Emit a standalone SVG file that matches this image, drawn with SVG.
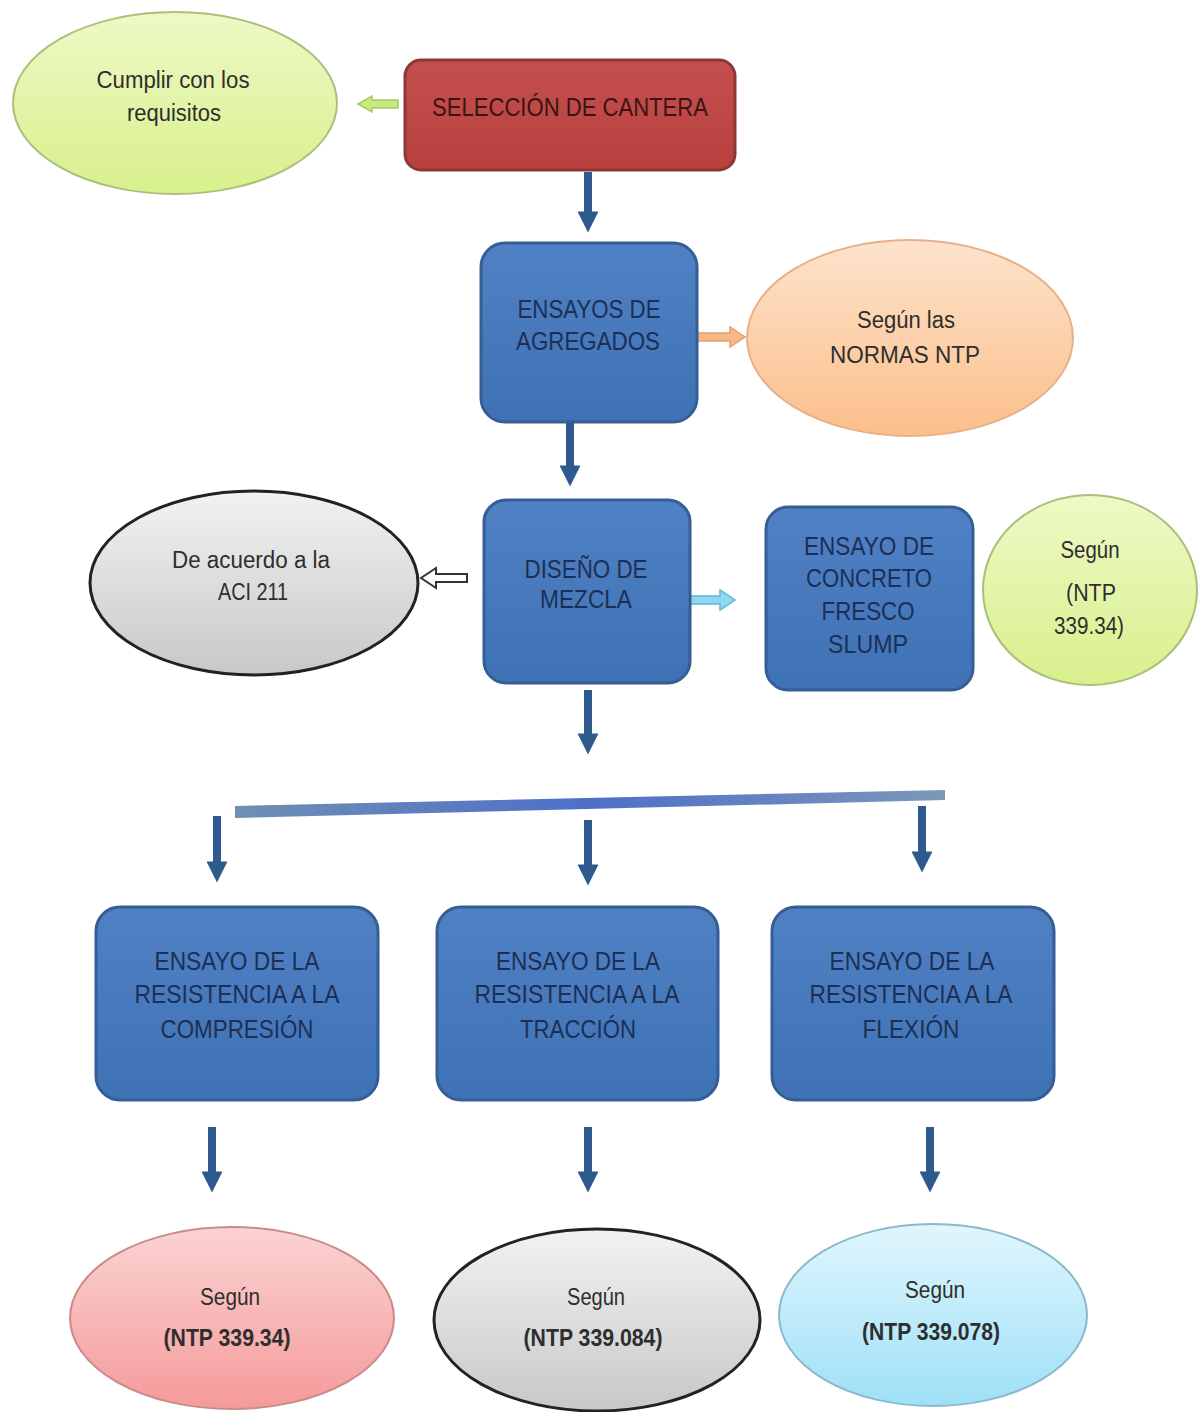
<svg xmlns="http://www.w3.org/2000/svg" width="1198" height="1412" viewBox="0 0 1198 1412">
<defs>
<linearGradient id="gBlue" x1="0" y1="0" x2="0" y2="1"><stop offset="0" stop-color="#4f81c4"/><stop offset="1" stop-color="#3f72b5"/></linearGradient>
<linearGradient id="gRed" x1="0" y1="0" x2="0" y2="1"><stop offset="0" stop-color="#c4504e"/><stop offset="1" stop-color="#b8403e"/></linearGradient>
<linearGradient id="gGreen" x1="0" y1="0" x2="0" y2="1"><stop offset="0" stop-color="#eef9c6"/><stop offset="1" stop-color="#d8f08c"/></linearGradient>
<linearGradient id="gOrange" x1="0" y1="0" x2="0" y2="1"><stop offset="0" stop-color="#fde3cc"/><stop offset="1" stop-color="#fbbf8a"/></linearGradient>
<linearGradient id="gGray" x1="0" y1="0" x2="0" y2="1"><stop offset="0" stop-color="#f2f2f2"/><stop offset="1" stop-color="#c8c8c8"/></linearGradient>
<linearGradient id="gPink" x1="0" y1="0" x2="0" y2="1"><stop offset="0" stop-color="#fbd3d3"/><stop offset="1" stop-color="#f59a9a"/></linearGradient>
<linearGradient id="gCyan" x1="0" y1="0" x2="0" y2="1"><stop offset="0" stop-color="#e0f6fd"/><stop offset="1" stop-color="#9fe0f7"/></linearGradient>
<linearGradient id="gBar" x1="0" y1="0" x2="1" y2="0"><stop offset="0" stop-color="#6f8fb3"/><stop offset="0.5" stop-color="#4e6fc9"/><stop offset="1" stop-color="#7d97b8"/></linearGradient>
<marker id="ah" viewBox="0 0 10 10" refX="5" refY="5" markerWidth="3" markerHeight="2.6" orient="auto" markerUnits="strokeWidth">
<path d="M0,0 L10,5 L0,10 Z" fill="#2f5a8e"/>
</marker>
</defs>
<style>
.box{stroke:#355f94;stroke-width:3}
.bt{font-family:"Liberation Sans",Arial,sans-serif;font-size:25px;fill:#1d2f55;text-anchor:middle}
.et{font-family:"Liberation Sans",Arial,sans-serif;font-size:23px;fill:#2e2e2e;text-anchor:middle}
.eb{font-weight:bold}
.conn{stroke:#2f5a8e;stroke-width:8;fill:none}
</style>
<rect width="1198" height="1412" fill="#ffffff"/>

<g id="connectors">
<line class="conn" x1="588" y1="172" x2="588" y2="222" marker-end="url(#ah)"/>
<line class="conn" x1="570" y1="423" x2="570" y2="476" marker-end="url(#ah)"/>
<line class="conn" x1="588" y1="690" x2="588" y2="744" marker-end="url(#ah)"/>
<path d="M235,806 L945,790 L945,800 L235,818 Z" fill="url(#gBar)"/>
<line class="conn" x1="217" y1="816" x2="217" y2="872" marker-end="url(#ah)"/>
<line class="conn" x1="588" y1="820" x2="588" y2="875" marker-end="url(#ah)"/>
<line class="conn" x1="922" y1="806" x2="922" y2="862" marker-end="url(#ah)"/>
<line class="conn" x1="212" y1="1127" x2="212" y2="1182" marker-end="url(#ah)"/>
<line class="conn" x1="588" y1="1127" x2="588" y2="1182" marker-end="url(#ah)"/>
<line class="conn" x1="930" y1="1127" x2="930" y2="1182" marker-end="url(#ah)"/>
<!-- side block arrows -->
<path d="M398,100 L372,100 L372,96 L358,104 L372,112 L372,108 L398,108 Z" fill="#c9ea7e" stroke="#a6c85f" stroke-width="1.5"/>
<path d="M697,333 L730,333 L730,327 L745,337 L730,347 L730,341 L697,341 Z" fill="#f7b987" stroke="#e7a06a" stroke-width="1.5"/>
<path d="M467,574 L436,574 L436,568 L421,578 L436,588 L436,582 L467,582 Z" fill="#ffffff" stroke="#333333" stroke-width="2"/>
<path d="M686,596 L720,596 L720,590 L735,600 L720,610 L720,604 L686,604 Z" fill="#8fd7f0" stroke="#5fb7d8" stroke-width="1.5"/>
</g>

<g id="n-cumplir">
<ellipse cx="175" cy="103" rx="162" ry="91" fill="url(#gGreen)" stroke="#a9bf7a" stroke-width="2"/>
<text class="et" x="173" y="88" textLength="153" lengthAdjust="spacingAndGlyphs">Cumplir con los</text>
<text class="et" x="174" y="121" textLength="94" lengthAdjust="spacingAndGlyphs">requisitos</text>
</g>

<g id="n-seleccion">
<rect x="405" y="60" width="330" height="110" rx="16" fill="url(#gRed)" stroke="#8c3836" stroke-width="3"/>
<text class="bt" x="570" y="116" fill="#3a1414" style="fill:#3a1414" textLength="276" lengthAdjust="spacingAndGlyphs">SELECCIÓN DE CANTERA</text>
</g>

<g id="n-agregados">
<rect class="box" x="481" y="243" width="216" height="179" rx="24" fill="url(#gBlue)"/>
<text class="bt" x="589" y="318" textLength="143" lengthAdjust="spacingAndGlyphs">ENSAYOS DE</text>
<text class="bt" x="588" y="350" textLength="144" lengthAdjust="spacingAndGlyphs">AGREGADOS</text>
</g>

<g id="n-normas">
<ellipse cx="910" cy="338" rx="163" ry="98" fill="url(#gOrange)" stroke="#e8b088" stroke-width="2"/>
<text class="et" x="906" y="328" textLength="98" lengthAdjust="spacingAndGlyphs">Según  las</text>
<text class="et" x="905" y="363" textLength="150" lengthAdjust="spacingAndGlyphs">NORMAS NTP</text>
</g>

<g id="n-diseno">
<rect class="box" x="484" y="500" width="206" height="183" rx="22" fill="url(#gBlue)"/>
<text class="bt" x="586" y="578" textLength="123" lengthAdjust="spacingAndGlyphs">DISEÑO DE</text>
<text class="bt" x="586" y="608" textLength="92" lengthAdjust="spacingAndGlyphs">MEZCLA</text>
</g>

<g id="n-aci">
<ellipse cx="254" cy="583" rx="164" ry="92" fill="url(#gGray)" stroke="#222222" stroke-width="3"/>
<text class="et" x="251" y="568" textLength="158" lengthAdjust="spacingAndGlyphs">De acuerdo  a la</text>
<text class="et" x="253" y="600" textLength="70" lengthAdjust="spacingAndGlyphs">ACI 211</text>
</g>

<g id="n-slump">
<rect class="box" x="766" y="507" width="207" height="183" rx="22" fill="url(#gBlue)"/>
<text class="bt" x="869" y="555" textLength="130" lengthAdjust="spacingAndGlyphs">ENSAYO DE</text>
<text class="bt" x="869" y="587" textLength="126" lengthAdjust="spacingAndGlyphs">CONCRETO</text>
<text class="bt" x="868" y="620" textLength="93" lengthAdjust="spacingAndGlyphs">FRESCO</text>
<text class="bt" x="868" y="653" textLength="80" lengthAdjust="spacingAndGlyphs">SLUMP</text>
</g>

<g id="n-ntp-slump">
<ellipse cx="1090" cy="590" rx="107" ry="95" fill="url(#gGreen)" stroke="#a9bf7a" stroke-width="2"/>
<text class="et" x="1090" y="558" textLength="59" lengthAdjust="spacingAndGlyphs">Según</text>
<text class="et" x="1091" y="601" textLength="50" lengthAdjust="spacingAndGlyphs">(NTP</text>
<text class="et" x="1089" y="634" textLength="70" lengthAdjust="spacingAndGlyphs">339.34)</text>
</g>

<g id="n-compresion">
<rect class="box" x="96" y="907" width="282" height="193" rx="24" fill="url(#gBlue)"/>
<text class="bt" x="237" y="970" textLength="165" lengthAdjust="spacingAndGlyphs">ENSAYO DE LA</text>
<text class="bt" x="237" y="1003" textLength="205" lengthAdjust="spacingAndGlyphs">RESISTENCIA A LA</text>
<text class="bt" x="237" y="1038" textLength="153" lengthAdjust="spacingAndGlyphs">COMPRESIÓN</text>
</g>

<g id="n-traccion">
<rect class="box" x="437" y="907" width="281" height="193" rx="24" fill="url(#gBlue)"/>
<text class="bt" x="578" y="970" textLength="164" lengthAdjust="spacingAndGlyphs">ENSAYO DE LA</text>
<text class="bt" x="577" y="1003" textLength="205" lengthAdjust="spacingAndGlyphs">RESISTENCIA A LA</text>
<text class="bt" x="578" y="1038" textLength="116" lengthAdjust="spacingAndGlyphs">TRACCIÓN</text>
</g>

<g id="n-flexion">
<rect class="box" x="772" y="907" width="282" height="193" rx="24" fill="url(#gBlue)"/>
<text class="bt" x="912" y="970" textLength="165" lengthAdjust="spacingAndGlyphs">ENSAYO DE LA</text>
<text class="bt" x="911" y="1003" textLength="203" lengthAdjust="spacingAndGlyphs">RESISTENCIA A LA</text>
<text class="bt" x="911" y="1038" textLength="97" lengthAdjust="spacingAndGlyphs">FLEXIÓN</text>
</g>

<g id="n-ntp-34">
<ellipse cx="232" cy="1318" rx="162" ry="91" fill="url(#gPink)" stroke="#c98a8a" stroke-width="2"/>
<text class="et" x="230" y="1305" textLength="60" lengthAdjust="spacingAndGlyphs">Según</text>
<text class="et eb" x="227" y="1346" textLength="127" lengthAdjust="spacingAndGlyphs">(NTP 339.34)</text>
</g>

<g id="n-ntp-084">
<ellipse cx="597" cy="1320" rx="163" ry="91" fill="url(#gGray)" stroke="#222222" stroke-width="3"/>
<text class="et" x="596" y="1305" textLength="58" lengthAdjust="spacingAndGlyphs">Según</text>
<text class="et eb" x="593" y="1346" textLength="139" lengthAdjust="spacingAndGlyphs">(NTP 339.084)</text>
</g>

<g id="n-ntp-078">
<ellipse cx="933" cy="1315" rx="154" ry="91" fill="url(#gCyan)" stroke="#8ab8cc" stroke-width="2"/>
<text class="et" x="935" y="1298" textLength="60" lengthAdjust="spacingAndGlyphs">Según</text>
<text class="et eb" x="931" y="1340" textLength="138" lengthAdjust="spacingAndGlyphs">(NTP 339.078)</text>
</g>
</svg>
